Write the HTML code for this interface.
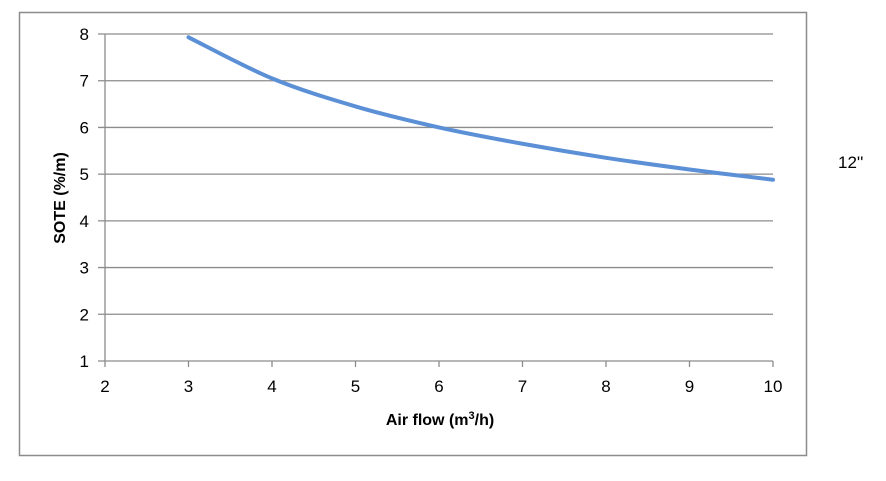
<!DOCTYPE html>
<html><head><meta charset="utf-8"><style>
body{margin:0;background:#fff;width:886px;height:476px;overflow:hidden;font-family:"Liberation Sans",Calibri,sans-serif}
</style></head><body>
<svg width="886" height="476" xmlns="http://www.w3.org/2000/svg">
<rect x="19.5" y="12.5" width="787" height="443" fill="#fff" stroke="#8c8c8c" stroke-width="1.5"/>
<g id="grid"></g>
<g id="axes"></g>
<path id="curve" fill="none" stroke="#5b8fd6" stroke-width="4" stroke-linecap="round"/>
<text x="440" y="425" text-anchor="middle" font-size="16" font-weight="bold" fill="#000">Air flow (m<tspan dy="-6" font-size="11">3</tspan><tspan dy="6">/h)</tspan></text>
<text transform="translate(65,198) rotate(-90)" text-anchor="middle" font-size="16" font-weight="bold" fill="#000">SOTE (%/m)</text>
<text x="838" y="168" font-size="17" fill="#000">12''</text>
</svg>
<script>
const xTicks=[2,3,4,5,6,7,8,9,10];
const yTicks=[1,2,3,4,5,6,7,8];
const flowValues=[3,4,5,6,7,8,9,10];
const soteValues=[7.93,7.05,6.45,6.0,5.65,5.35,5.1,4.88];
const X0=105,X1=773,Y0=361,Y1=34;
const sx=v=>X0+(v-2)/(10-2)*(X1-X0);
const sy=v=>Y0-(v-1)/(8-1)*(Y0-Y1);
const NS="http://www.w3.org/2000/svg";
const grid=document.getElementById('grid'),axes=document.getElementById('axes');
function mk(tag,attrs,parent){const e=document.createElementNS(NS,tag);for(const k in attrs)e.setAttribute(k,attrs[k]);parent.appendChild(e);return e;}
yTicks.forEach(v=>{
  const y=sy(v);
  const l=mk('line',{x1:X0-7,x2:X1,y1:y,y2:y,stroke:'#8c8c8c','stroke-width':1.3},grid);
  
  
  const t=mk('text',{x:X0-16,y:y+6,'text-anchor':'end','font-size':17,fill:'#000'},axes);
  t.textContent=v;
  
  
});
mk('line',{x1:X0,x2:X0,y1:Y1,y2:Y0,stroke:'#8c8c8c','stroke-width':1.3},axes);
xTicks.forEach(v=>{
  const x=sx(v);
  const l=mk('line',{x1:x,x2:x,y1:Y0,y2:Y0+6,stroke:'#8c8c8c','stroke-width':1.3},axes);
  
  
  const t=mk('text',{x:x,y:Y0+31,'text-anchor':'middle','font-size':17,fill:'#000'},axes);
  t.textContent=v;
  
  
});
const pts=flowValues.map((f,i)=>[sx(f),sy(soteValues[i])]);
let d='M'+pts[0][0]+','+pts[0][1];
for(let i=0;i<pts.length-1;i++){
  const p0=pts[Math.max(0,i-1)],p1=pts[i],p2=pts[i+1],p3=pts[Math.min(pts.length-1,i+2)];
  const c1=[p1[0]+(p2[0]-p0[0])/6,p1[1]+(p2[1]-p0[1])/6];
  const c2=[p2[0]-(p3[0]-p1[0])/6,p2[1]-(p3[1]-p1[1])/6];
  d+=' C'+c1+' '+c2+' '+p2;
}
document.getElementById('curve').setAttribute('d',d);
</script>
</body></html>
